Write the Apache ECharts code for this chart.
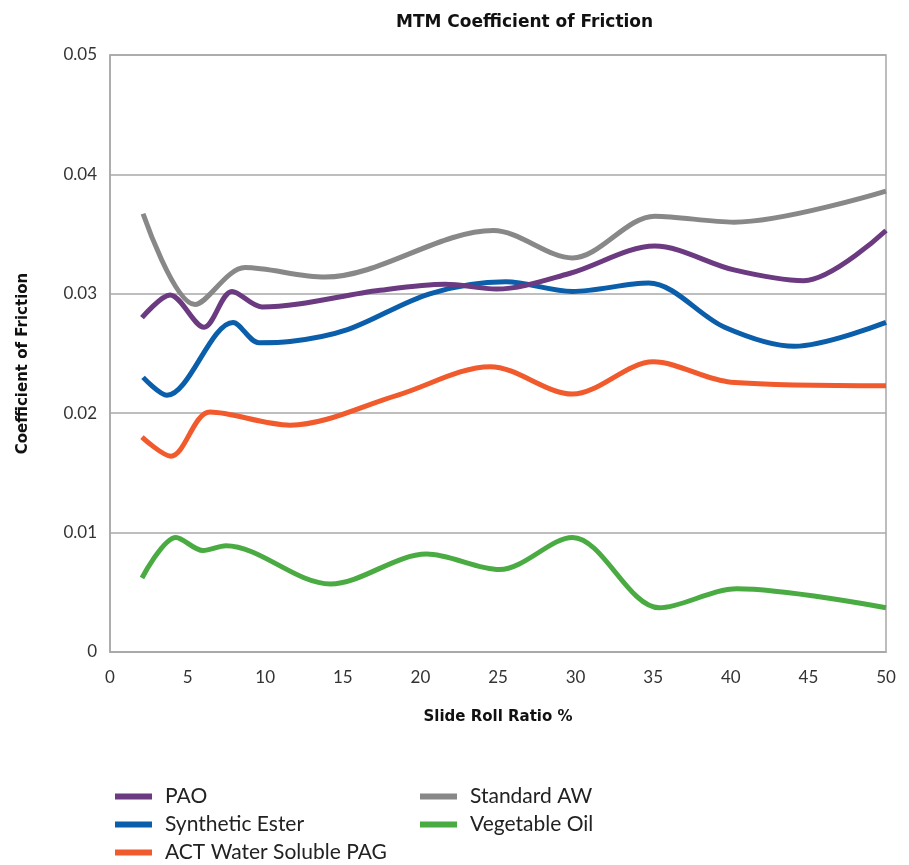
<!DOCTYPE html>
<html>
<head>
<meta charset="utf-8">
<script src="https://cdn.jsdelivr.net/npm/echarts@6/dist/echarts.min.js"></script>
<style>html,body{margin:0;padding:0;background:#fff;}#c{width:909px;height:865px;}</style>
</head>
<body>
<div id="c"></div>
<script>
// x = Slide Roll Ratio %, y = Coefficient of Friction
const xTicks = [0, 5, 10, 15, 20, 25, 30, 35, 40, 45, 50];
const yTicks = [0, 0.01, 0.02, 0.03, 0.04, 0.05];

const seriesNames = ['PAO', 'Synthetic Ester', 'ACT Water Soluble PAG', 'Standard AW', 'Vegetable Oil'];

const paoData = [
  [2.06, 0.0280], [3.87, 0.0299], [6.06, 0.0272], [7.86, 0.0302], [9.79, 0.0289],
  [17.4, 0.0303], [21.6, 0.0308], [24.9, 0.0304], [29.6, 0.0317], [35.1, 0.0340],
  [40.2, 0.0320], [44.7, 0.0311], [50, 0.0353]
];
const esterData = [
  [2.13, 0.0230], [3.67, 0.0215], [7.93, 0.0276], [9.6, 0.0259], [11.6, 0.0260],
  [15.3, 0.0270], [20.6, 0.0300], [25.5, 0.0310], [29.8, 0.0302], [34.7, 0.0309],
  [39.6, 0.0272], [44.1, 0.0256], [50, 0.0276]
];
const pagData = [
  [2.06, 0.0180], [3.93, 0.0164], [6.44, 0.0201], [11.6, 0.0190], [18.5, 0.0215],
  [24.5, 0.0239], [29.8, 0.0216], [35.0, 0.0243], [40.0, 0.0226], [50, 0.0223]
];
const awData = [
  [2.13, 0.0367], [5.48, 0.0291], [8.70, 0.0322], [13.85, 0.0314], [24.7, 0.0353],
  [29.8, 0.0330], [35.1, 0.0365], [40.2, 0.0360], [50, 0.0386]
];
const vegData = [
  [2.06, 0.0062], [4.25, 0.0096], [5.99, 0.0085], [7.47, 0.0089], [14.2, 0.0057],
  [20.4, 0.0082], [25.1, 0.0069], [29.8, 0.0096], [35.4, 0.0037], [40.4, 0.0053],
  [50, 0.0037]
];

const colors = ['#6b3a80', '#0b5eaa', '#f15a2c', '#888888', '#4bab43'];
const allData = [paoData, esterData, pagData, awData, vegData];

const chart = echarts.init(document.getElementById('c'));
const font = 'Lato, "Open Sans", sans-serif';
const boldFont = '"DejaVu Sans", "Open Sans", sans-serif';

const legendBase = {
  orient: 'vertical', top: 781, height: 100,
  icon: 'rect', itemWidth: 37, itemHeight: 6, itemGap: 7,
  textStyle: { fontFamily: font, fontSize: 21, color: '#222', padding: [0, 0, 0, 8] }
};

chart.setOption({
  animation: false,
  backgroundColor: '#fff',
  title: {
    text: 'MTM Coefficient of Friction',
    left: 391, top: 9,
    textStyle: { fontFamily: boldFont, fontSize: 17, fontWeight: 'bold', color: '#111' }
  },
  grid: {
    left: 110, right: 23, top: 55, bottom: 213,
    show: true, borderColor: '#a8a8a8', borderWidth: 1.5, backgroundColor: 'transparent'
  },
  legend: [
    Object.assign({}, legendBase, { data: seriesNames.slice(0, 3), left: 110 }),
    Object.assign({}, legendBase, { data: seriesNames.slice(3), left: 415 })
  ],
  xAxis: {
    type: 'value', min: xTicks[0], max: xTicks[xTicks.length - 1], interval: 5,
    name: 'Slide Roll Ratio %', nameLocation: 'middle', nameGap: 58,
    nameTextStyle: { fontFamily: boldFont, fontSize: 15, fontWeight: 'bold', color: '#111' },
    axisLine: { show: true, lineStyle: { color: '#a8a8a8', width: 1.5 } },
    axisTick: { show: false },
    splitLine: { show: false },
    axisLabel: { fontFamily: font, fontSize: 17, color: '#333', margin: 17 }
  },
  yAxis: {
    type: 'value', min: yTicks[0], max: yTicks[yTicks.length - 1], interval: 0.01,
    name: 'Coefficient of Friction', nameLocation: 'middle', nameGap: 79,
    nameTextStyle: { fontFamily: boldFont, fontSize: 15, fontWeight: 'bold', color: '#111', padding: [0, 20, 0, 0] },
    axisLine: { show: true, lineStyle: { color: '#a8a8a8', width: 1.5 } },
    axisTick: { show: false },
    splitLine: { show: true, lineStyle: { color: '#a8a8a8', width: 1.5 } },
    axisLabel: {
      fontFamily: font, fontSize: 17, color: '#333', margin: 13,
      formatter: v => v === 0 ? '0' : v.toFixed(2)
    }
  },
  series: seriesNames.map((n, i) => ({
    name: n, type: 'line', data: allData[i], smooth: 0.32,
    showSymbol: false, symbol: 'none',
    lineStyle: { color: colors[i], width: 5 },
    itemStyle: { color: colors[i] },
    z: 10 - i
  }))
});
</script>
</body>
</html>
